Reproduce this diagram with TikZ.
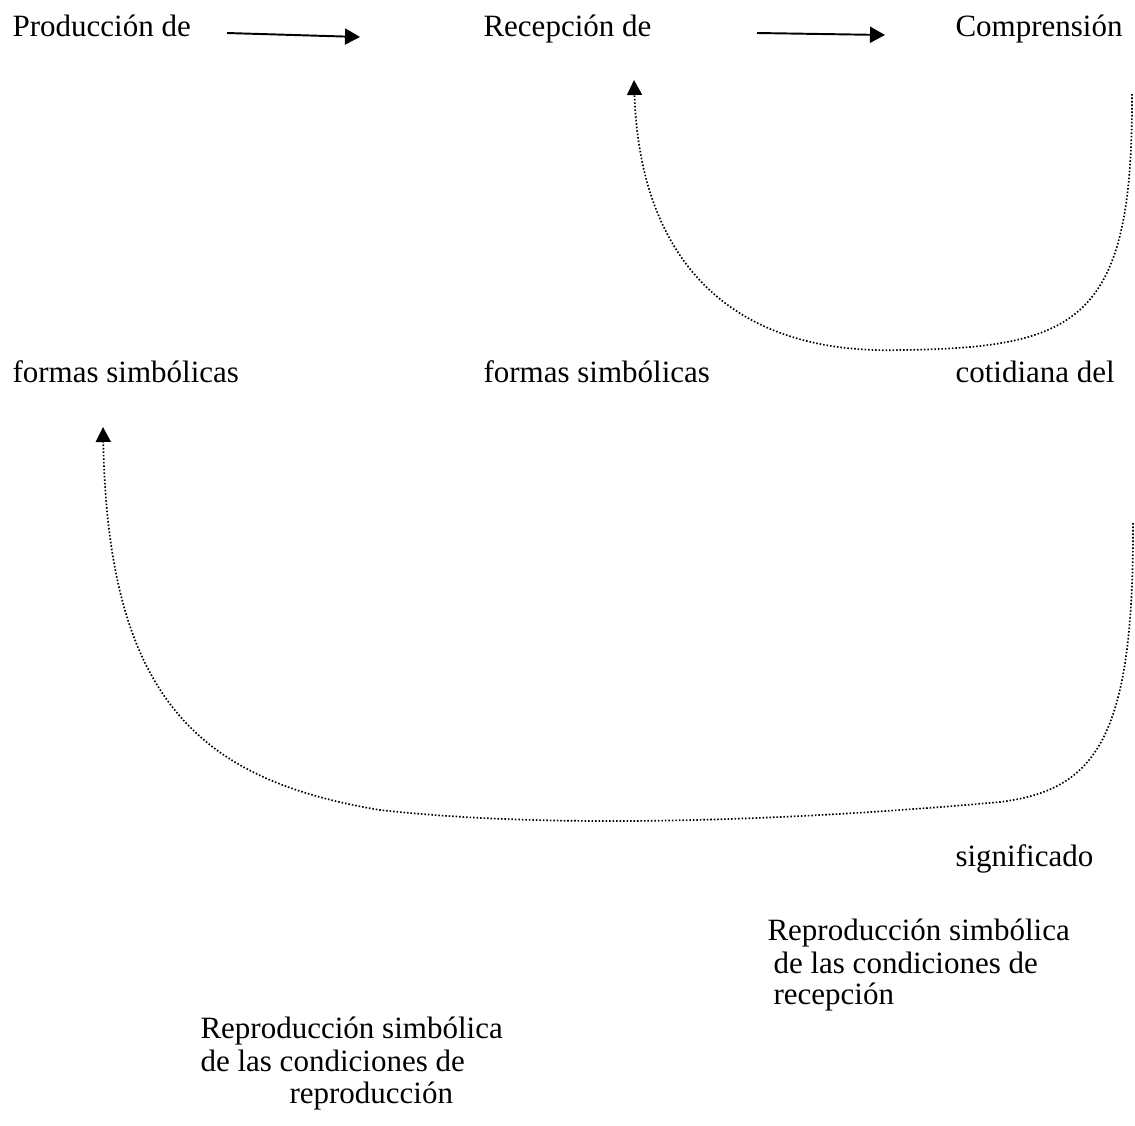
\documentclass[tikz,border=0pt]{standalone}
\usepackage{fontspec}
\setmainfont{Liberation Serif}
\usetikzlibrary{arrows.meta}
\tikzset{
	txt/.style={anchor=base west, inner sep=0pt, font=\fontsize{12}{14}\selectfont},
	flecha/.style={line width=0.75pt, -{Triangle[length=5.8pt,width=6.2pt]}},
	punteada/.style={line width=0.65pt, dash pattern=on 0.6pt off 0.75pt, -{Triangle[length=5.8pt,width=5.8pt]}}
}

\begin{document}
\begin{tikzpicture}[x=0.387pt, y=-0.387pt]
		%%%%% START %%%%%
		\useasboundingbox (0,0) rectangle (1135,1126);
		
		\node[txt] (prod) at (12,36) {Producción de};
		\node[txt] (recep) at (483,36) {Recepción de};
		\node[txt] (compr) at (955,36) {Comprensión};
		
		\node[txt] (formasA) at (12,382) {formas simbólicas};
		\node[txt] (formasB) at (483,382) {formas simbólicas};
		\node[txt] (cotid) at (955,382) {cotidiana del};
		
		\node[txt] (signif) at (955,866) {significado};
		
		\node[txt] (recA) at (767,940) {Reproducción simbólica};
		\node[txt] (recB) at (773,973) {de las condiciones de};
		\node[txt] (recC) at (773,1004) {recepción};
		
		\node[txt] (repA) at (200,1038) {Reproducción simbólica};
		\node[txt] (repB) at (200,1071) {de las condiciones de};
		\node[txt] (repC) at (289,1103) {reproducción};
		
		\coordinate (f1a) at (227,33);
		\coordinate (f1b) at (360,37);
		\coordinate (f2a) at (757,33);
		\coordinate (f2b) at (885,35);
		\draw[flecha] (f1a) -- (f1b);
		\draw[flecha] (f2a) -- (f2b);
		
		\coordinate (c1a) at (1132,94);
		\coordinate (c1m) at (900,350);
		\coordinate (c1b) at (634,80);
		\draw[punteada] (c1a) .. controls (1133,320) and (1080,348) .. (c1m)
			.. controls (730,355) and (640,260) .. (c1b);
		
		\coordinate (c2a) at (1133,523);
		\coordinate (c2m) at (1000,802);
		\coordinate (c2n) at (380,810);
		\coordinate (c2b) at (103,427);
		\draw[punteada] (c2a) .. controls (1134,740) and (1095,790) .. (c2m)
			.. controls (800,820) and (560,830) .. (c2n)
			.. controls (200,780) and (108,700) .. (c2b);
		%%%%% END %%%%%
	\end{tikzpicture}
\end{document}
